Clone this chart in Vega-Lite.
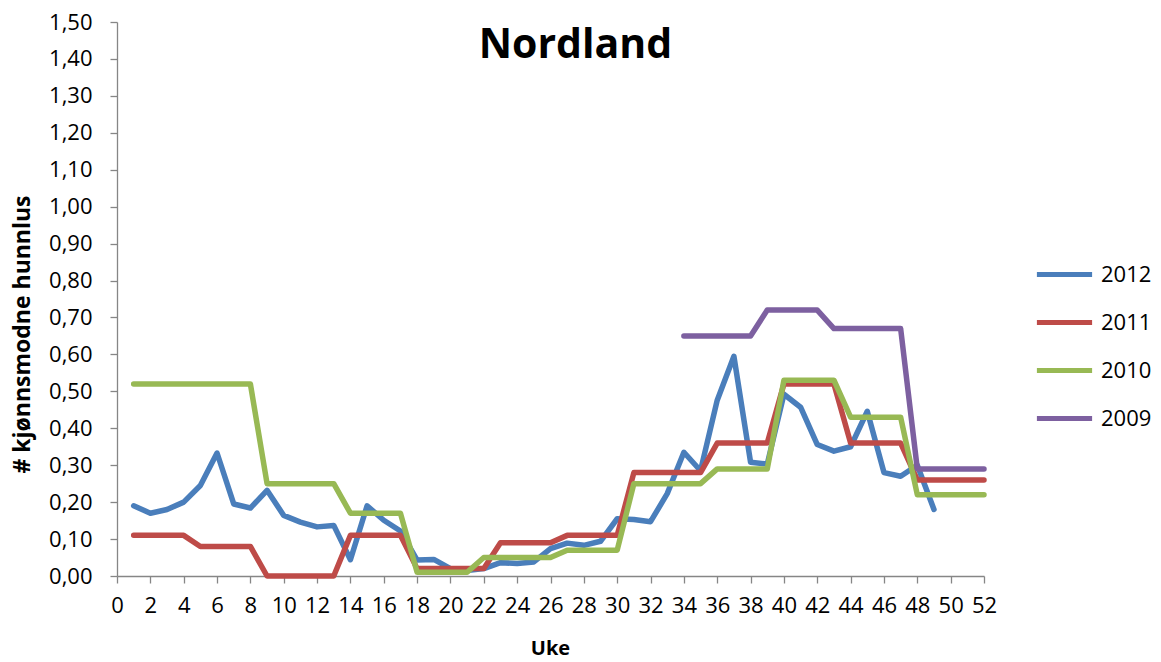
{
  "$schema": "https://vega.github.io/schema/vega-lite/v6.json",
  "width": 867,
  "height": 554,
  "autosize": {"type": "none"},
  "padding": {"left": 117, "top": 22, "right": 177, "bottom": 86},
  "background": "white",
  "config": {
    "font": "Open Sans",
    "view": {"stroke": null},
    "axis": {"grid": false, "domainColor": "#868686", "tickColor": "#868686", "domainWidth": 1.3, "tickWidth": 1.3, "tickSize": 7, "labelFontSize": 22, "labelColor": "#000000", "titleFontSize": 23, "titleFontWeight": "bold", "titleColor": "#000000", "labelFont": "Open Sans", "titleFont": "Open Sans"},
    "legend": {"labelFontSize": 22, "labelColor": "#000000", "labelFont": "Open Sans"}
  },
  "title": {"text": "Nordland", "fontSize": 41, "fontWeight": "bold", "font": "Open Sans", "color": "#000000", "frame": "group", "anchor": "middle", "offset": 0, "dx": 25, "dy": 56},
  "data": {"values": [
    {"week": 1, "year": "2012", "value": 0.19},
    {"week": 2, "year": "2012", "value": 0.17},
    {"week": 3, "year": "2012", "value": 0.18},
    {"week": 4, "year": "2012", "value": 0.2},
    {"week": 5, "year": "2012", "value": 0.245},
    {"week": 6, "year": "2012", "value": 0.333},
    {"week": 7, "year": "2012", "value": 0.195},
    {"week": 8, "year": "2012", "value": 0.184},
    {"week": 9, "year": "2012", "value": 0.232},
    {"week": 10, "year": "2012", "value": 0.164},
    {"week": 11, "year": "2012", "value": 0.146},
    {"week": 12, "year": "2012", "value": 0.133},
    {"week": 13, "year": "2012", "value": 0.137},
    {"week": 14, "year": "2012", "value": 0.044},
    {"week": 15, "year": "2012", "value": 0.19},
    {"week": 16, "year": "2012", "value": 0.151},
    {"week": 17, "year": "2012", "value": 0.122},
    {"week": 18, "year": "2012", "value": 0.043},
    {"week": 19, "year": "2012", "value": 0.045},
    {"week": 20, "year": "2012", "value": 0.02},
    {"week": 21, "year": "2012", "value": 0.015},
    {"week": 22, "year": "2012", "value": 0.02},
    {"week": 23, "year": "2012", "value": 0.036},
    {"week": 24, "year": "2012", "value": 0.034},
    {"week": 25, "year": "2012", "value": 0.038},
    {"week": 26, "year": "2012", "value": 0.074},
    {"week": 27, "year": "2012", "value": 0.089},
    {"week": 28, "year": "2012", "value": 0.083},
    {"week": 29, "year": "2012", "value": 0.094},
    {"week": 30, "year": "2012", "value": 0.155},
    {"week": 31, "year": "2012", "value": 0.153},
    {"week": 32, "year": "2012", "value": 0.147},
    {"week": 33, "year": "2012", "value": 0.223},
    {"week": 34, "year": "2012", "value": 0.335},
    {"week": 35, "year": "2012", "value": 0.285},
    {"week": 36, "year": "2012", "value": 0.476},
    {"week": 37, "year": "2012", "value": 0.595},
    {"week": 38, "year": "2012", "value": 0.308},
    {"week": 39, "year": "2012", "value": 0.303},
    {"week": 40, "year": "2012", "value": 0.492},
    {"week": 41, "year": "2012", "value": 0.457},
    {"week": 42, "year": "2012", "value": 0.356},
    {"week": 43, "year": "2012", "value": 0.338},
    {"week": 44, "year": "2012", "value": 0.35},
    {"week": 45, "year": "2012", "value": 0.446},
    {"week": 46, "year": "2012", "value": 0.28},
    {"week": 47, "year": "2012", "value": 0.27},
    {"week": 48, "year": "2012", "value": 0.3},
    {"week": 49, "year": "2012", "value": 0.18},
    {"week": 1, "year": "2011", "value": 0.11},
    {"week": 2, "year": "2011", "value": 0.11},
    {"week": 3, "year": "2011", "value": 0.11},
    {"week": 4, "year": "2011", "value": 0.11},
    {"week": 5, "year": "2011", "value": 0.08},
    {"week": 6, "year": "2011", "value": 0.08},
    {"week": 7, "year": "2011", "value": 0.08},
    {"week": 8, "year": "2011", "value": 0.08},
    {"week": 9, "year": "2011", "value": 0},
    {"week": 10, "year": "2011", "value": 0},
    {"week": 11, "year": "2011", "value": 0},
    {"week": 12, "year": "2011", "value": 0},
    {"week": 13, "year": "2011", "value": 0},
    {"week": 14, "year": "2011", "value": 0.11},
    {"week": 15, "year": "2011", "value": 0.11},
    {"week": 16, "year": "2011", "value": 0.11},
    {"week": 17, "year": "2011", "value": 0.11},
    {"week": 18, "year": "2011", "value": 0.02},
    {"week": 19, "year": "2011", "value": 0.02},
    {"week": 20, "year": "2011", "value": 0.02},
    {"week": 21, "year": "2011", "value": 0.02},
    {"week": 22, "year": "2011", "value": 0.02},
    {"week": 23, "year": "2011", "value": 0.09},
    {"week": 24, "year": "2011", "value": 0.09},
    {"week": 25, "year": "2011", "value": 0.09},
    {"week": 26, "year": "2011", "value": 0.09},
    {"week": 27, "year": "2011", "value": 0.11},
    {"week": 28, "year": "2011", "value": 0.11},
    {"week": 29, "year": "2011", "value": 0.11},
    {"week": 30, "year": "2011", "value": 0.11},
    {"week": 31, "year": "2011", "value": 0.28},
    {"week": 32, "year": "2011", "value": 0.28},
    {"week": 33, "year": "2011", "value": 0.28},
    {"week": 34, "year": "2011", "value": 0.28},
    {"week": 35, "year": "2011", "value": 0.28},
    {"week": 36, "year": "2011", "value": 0.36},
    {"week": 37, "year": "2011", "value": 0.36},
    {"week": 38, "year": "2011", "value": 0.36},
    {"week": 39, "year": "2011", "value": 0.36},
    {"week": 40, "year": "2011", "value": 0.52},
    {"week": 41, "year": "2011", "value": 0.52},
    {"week": 42, "year": "2011", "value": 0.52},
    {"week": 43, "year": "2011", "value": 0.52},
    {"week": 44, "year": "2011", "value": 0.36},
    {"week": 45, "year": "2011", "value": 0.36},
    {"week": 46, "year": "2011", "value": 0.36},
    {"week": 47, "year": "2011", "value": 0.36},
    {"week": 48, "year": "2011", "value": 0.26},
    {"week": 49, "year": "2011", "value": 0.26},
    {"week": 50, "year": "2011", "value": 0.26},
    {"week": 51, "year": "2011", "value": 0.26},
    {"week": 52, "year": "2011", "value": 0.26},
    {"week": 1, "year": "2010", "value": 0.52},
    {"week": 2, "year": "2010", "value": 0.52},
    {"week": 3, "year": "2010", "value": 0.52},
    {"week": 4, "year": "2010", "value": 0.52},
    {"week": 5, "year": "2010", "value": 0.52},
    {"week": 6, "year": "2010", "value": 0.52},
    {"week": 7, "year": "2010", "value": 0.52},
    {"week": 8, "year": "2010", "value": 0.52},
    {"week": 9, "year": "2010", "value": 0.25},
    {"week": 10, "year": "2010", "value": 0.25},
    {"week": 11, "year": "2010", "value": 0.25},
    {"week": 12, "year": "2010", "value": 0.25},
    {"week": 13, "year": "2010", "value": 0.25},
    {"week": 14, "year": "2010", "value": 0.17},
    {"week": 15, "year": "2010", "value": 0.17},
    {"week": 16, "year": "2010", "value": 0.17},
    {"week": 17, "year": "2010", "value": 0.17},
    {"week": 18, "year": "2010", "value": 0.01},
    {"week": 19, "year": "2010", "value": 0.01},
    {"week": 20, "year": "2010", "value": 0.01},
    {"week": 21, "year": "2010", "value": 0.01},
    {"week": 22, "year": "2010", "value": 0.05},
    {"week": 23, "year": "2010", "value": 0.05},
    {"week": 24, "year": "2010", "value": 0.05},
    {"week": 25, "year": "2010", "value": 0.05},
    {"week": 26, "year": "2010", "value": 0.05},
    {"week": 27, "year": "2010", "value": 0.07},
    {"week": 28, "year": "2010", "value": 0.07},
    {"week": 29, "year": "2010", "value": 0.07},
    {"week": 30, "year": "2010", "value": 0.07},
    {"week": 31, "year": "2010", "value": 0.25},
    {"week": 32, "year": "2010", "value": 0.25},
    {"week": 33, "year": "2010", "value": 0.25},
    {"week": 34, "year": "2010", "value": 0.25},
    {"week": 35, "year": "2010", "value": 0.25},
    {"week": 36, "year": "2010", "value": 0.29},
    {"week": 37, "year": "2010", "value": 0.29},
    {"week": 38, "year": "2010", "value": 0.29},
    {"week": 39, "year": "2010", "value": 0.29},
    {"week": 40, "year": "2010", "value": 0.53},
    {"week": 41, "year": "2010", "value": 0.53},
    {"week": 42, "year": "2010", "value": 0.53},
    {"week": 43, "year": "2010", "value": 0.53},
    {"week": 44, "year": "2010", "value": 0.43},
    {"week": 45, "year": "2010", "value": 0.43},
    {"week": 46, "year": "2010", "value": 0.43},
    {"week": 47, "year": "2010", "value": 0.43},
    {"week": 48, "year": "2010", "value": 0.22},
    {"week": 49, "year": "2010", "value": 0.22},
    {"week": 50, "year": "2010", "value": 0.22},
    {"week": 51, "year": "2010", "value": 0.22},
    {"week": 52, "year": "2010", "value": 0.22},
    {"week": 34, "year": "2009", "value": 0.65},
    {"week": 35, "year": "2009", "value": 0.65},
    {"week": 36, "year": "2009", "value": 0.65},
    {"week": 37, "year": "2009", "value": 0.65},
    {"week": 38, "year": "2009", "value": 0.65},
    {"week": 39, "year": "2009", "value": 0.72},
    {"week": 40, "year": "2009", "value": 0.72},
    {"week": 41, "year": "2009", "value": 0.72},
    {"week": 42, "year": "2009", "value": 0.72},
    {"week": 43, "year": "2009", "value": 0.67},
    {"week": 44, "year": "2009", "value": 0.67},
    {"week": 45, "year": "2009", "value": 0.67},
    {"week": 46, "year": "2009", "value": 0.67},
    {"week": 47, "year": "2009", "value": 0.67},
    {"week": 48, "year": "2009", "value": 0.29},
    {"week": 49, "year": "2009", "value": 0.29},
    {"week": 50, "year": "2009", "value": 0.29},
    {"week": 51, "year": "2009", "value": 0.29},
    {"week": 52, "year": "2009", "value": 0.29}
  ]},
  "encoding": {
    "x": {"field": "week", "type": "quantitative",
      "scale": {"domain": [0, 52], "nice": false, "zero": false},
      "axis": {"title": "Uke", "titleFontSize": 20, "values": [0,2,4,6,8,10,12,14,16,18,20,22,24,26,28,30,32,34,36,38,40,42,44,46,48,50,52], "labelPadding": 12, "labelFlush": false, "labelOverlap": false, "titleX": 433, "titleY": 72, "titleBaseline": "middle", "titleAlign": "center"}},
    "y": {"field": "value", "type": "quantitative",
      "scale": {"domain": [0, 1.5], "nice": false},
      "axis": {"title": "# kjønnsmodne hunnlus", "values": [0,0.1,0.2,0.3,0.4,0.5,0.6,0.7,0.8,0.9,1.0,1.1,1.2,1.3,1.4,1.5], "labelExpr": "replace(format(datum.value, '.2f'), '.', ',')", "labelPadding": 18, "labelFlush": false, "labelOverlap": false, "titleX": -95, "titleY": 312, "titleAngle": -90, "titleBaseline": "middle", "titleAlign": "center"}},
    "color": {"field": "year", "type": "nominal",
      "scale": {"domain": ["2012", "2011", "2010", "2009"], "range": ["#4A7EBB", "#BE4B48", "#98B954", "#7D60A0"]},
      "legend": {"title": null, "orient": "none", "legendX": 921, "legendY": 226, "symbolType": "M-1.15,0H1.15", "symbolSize": 2304, "symbolStrokeWidth": 5, "labelOffset": 10, "rowPadding": 10, "symbolStrokeColor": null}}
  },
  "layer": [
    {"transform": [{"filter": "datum.year === '2012'"}], "mark": {"type": "line", "strokeWidth": 5.5, "strokeCap": "round", "strokeJoin": "round"}},
    {"transform": [{"filter": "datum.year === '2011'"}], "mark": {"type": "line", "strokeWidth": 5.5, "strokeCap": "round", "strokeJoin": "round"}},
    {"transform": [{"filter": "datum.year === '2010'"}], "mark": {"type": "line", "strokeWidth": 5.5, "strokeCap": "round", "strokeJoin": "round"}},
    {"transform": [{"filter": "datum.year === '2009'"}], "mark": {"type": "line", "strokeWidth": 5.5, "strokeCap": "round", "strokeJoin": "round"}}
  ]
}
